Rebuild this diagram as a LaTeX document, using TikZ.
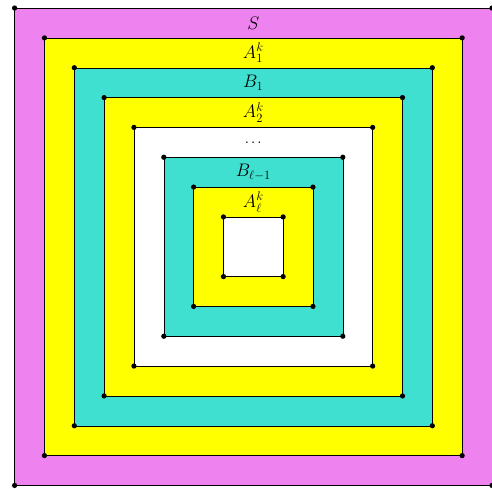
\documentclass[tikz,border=0pt]{standalone}
\usepackage{amsmath}
\usepackage{amssymb}
\usepackage{tikz}

\definecolor{bandviolet}{RGB}{238,130,238}
\definecolor{bandturq}{RGB}{64,224,208}
\definecolor{bandyellow}{RGB}{255,255,0}

\begin{document}
\begin{tikzpicture}[
			font=\fontsize{18}{21}\selectfont,
			band/.style={draw, outer sep=0pt, inner sep=0pt},
			corner/.style={circle, fill=black, inner sep=0pt, minimum size=5pt},
			lbl/.style={inner sep=0pt}
		]
		\useasboundingbox (-8.49,-8.11) rectangle (8.0,8.27);

		% faixas, de fora para dentro
		\foreach \r/\col in {8/bandviolet, 7/bandyellow, 6/bandturq, 5/bandyellow, 4/white, 3/bandturq, 2/bandyellow, 1/white} {
				\node[band, fill=\col, minimum size=\r*2cm] (sq\r) at (0,0) {};
			}

		% cantos
		\foreach \r in {1,...,8} {
				\foreach \a in {north west, north east, south west, south east} {
						\node[corner] (dot\r-\a) at (sq\r.\a) {};
					}
			}

		% rotulos das faixas
		\node[lbl] (lbl8) at (0,7.5) {$S$};
		\node[lbl] (lbl7) at (0,6.5) {$A_1^k$};
		\node[lbl] (lbl6) at (0,5.5) {$B_1$};
		\node[lbl] (lbl5) at (0,4.5) {$A_2^k$};
		\node[lbl] (lbl4) at (0,3.5) {.\hspace{1.5pt}.\hspace{1.5pt}.};
		\node[lbl] (lbl3) at (0,2.5) {$B_{\ell-1}$};
		\node[lbl] (lbl2) at (0,1.5) {$A_\ell^k$};
	\end{tikzpicture}
\end{document}
